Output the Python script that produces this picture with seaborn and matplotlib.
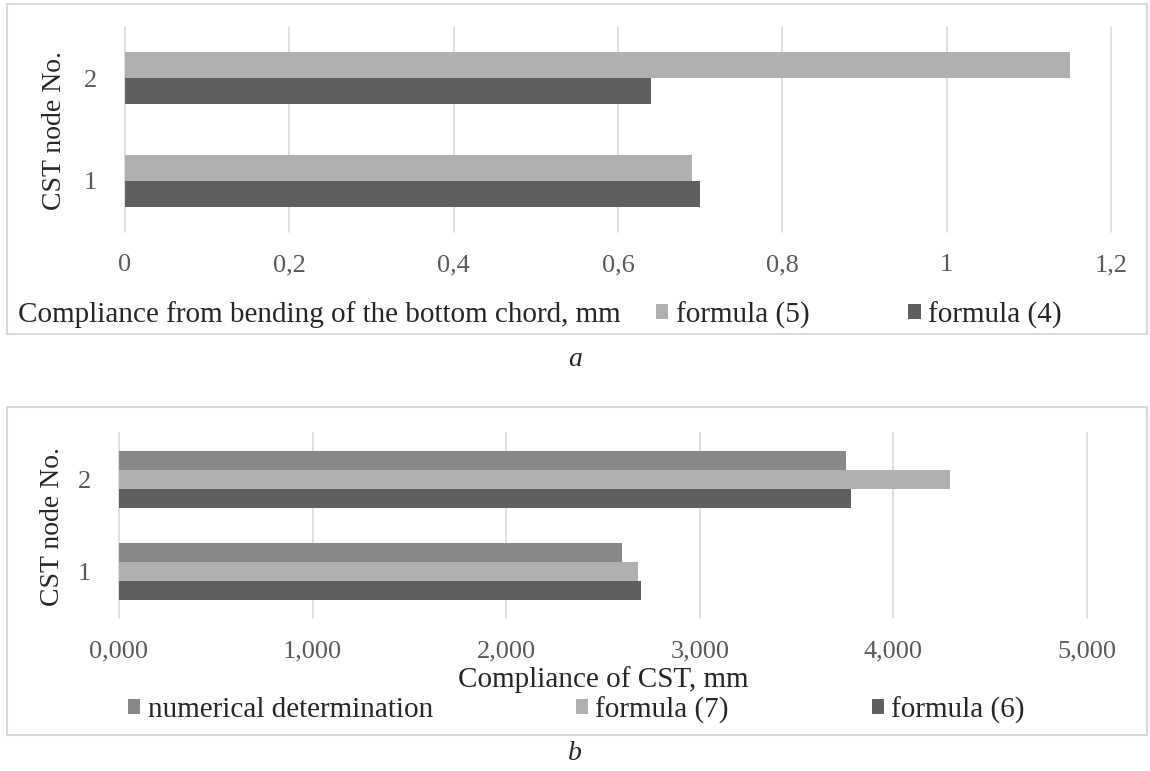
import pandas as pd
import matplotlib
matplotlib.use('Agg')
import matplotlib.pyplot as plt
import seaborn as sns
from matplotlib.patches import Rectangle

# data
nodes = ['1', '2']
formula_4 = [0.70, 0.64]
formula_5 = [0.69, 1.15]
numerical = [2.600, 3.757]
formula_7 = [2.680, 4.291]
formula_6 = [2.695, 3.779]

top_ticks = [0, 0.2, 0.4, 0.6, 0.8, 1.0, 1.2]
bot_ticks = [0, 1, 2, 3, 4, 5]

df_a = pd.DataFrame({
    'node': nodes * 2,
    'value': formula_5 + formula_4,
    'series': ['formula (5)'] * 2 + ['formula (4)'] * 2,
})
df_b = pd.DataFrame({
    'node': nodes * 3,
    'value': numerical + formula_7 + formula_6,
    'series': ['numerical determination'] * 2 + ['formula (7)'] * 2 + ['formula (6)'] * 2,
})

pal = {'formula (5)': '#b0b0b0', 'formula (4)': '#5f5f5f',
       'numerical determination': '#888888', 'formula (7)': '#b0b0b0',
       'formula (6)': '#5f5f5f'}

sns.set_style('white')
plt.rcParams['font.family'] = ['Liberation Serif', 'DejaVu Serif']

fig = plt.figure(figsize=(11.5, 7.71), dpi=100)
W, H = 1150, 771

def fx(px):
    return px / W

def fy(py):
    return 1 - py / H

# panel frames
for y0, y1 in [(4, 334), (407, 735)]:
    fig.patches.append(Rectangle((fx(7), fy(y1)), fx(1147) - fx(7), (y1 - y0) / H,
                                 transform=fig.transFigure, fill=False,
                                 edgecolor='#d9d9d9', lw=1.5, zorder=0))

ax1 = fig.add_axes([fx(125), fy(232), fx(1111) - fx(125), (232 - 27) / H])
ax2 = fig.add_axes([fx(119), fy(618), fx(1087) - fx(119), (618 - 433) / H])

sns.barplot(data=df_a, x='value', y='node', hue='series', orient='h',
            order=['2', '1'], hue_order=['formula (5)', 'formula (4)'],
            palette=pal, width=0.51, gap=0, saturation=1, linewidth=0,
            edgecolor='none', ax=ax1)
sns.barplot(data=df_b, x='value', y='node', hue='series', orient='h',
            order=['2', '1'],
            hue_order=['numerical determination', 'formula (7)', 'formula (6)'],
            palette=pal, width=0.62, gap=0, saturation=1, linewidth=0,
            edgecolor='none', ax=ax2)

ax1.set_xlim(0, 1.2)
ax1.set_xticks(top_ticks)
ax1.set_xticklabels([('%g' % t).replace('.', ',') for t in top_ticks])
ax2.set_xlim(0, 5)
ax2.set_xticks(bot_ticks)
ax2.set_xticklabels([('%.3f' % t).replace('.', ',') for t in bot_ticks])

for ax, anchor, cs in [(ax1, (fx(656), fy(315)), 3.4), (ax2, (fx(128), fy(710)), 4.9)]:
    h, l = ax.get_legend_handles_labels()
    ax.get_legend().remove()
    fig.legend(h, l, loc='center left', bbox_to_anchor=anchor, ncol=len(l),
               frameon=False, fontsize=21, borderpad=0, borderaxespad=0,
               handlelength=0.42, handleheight=0.42, handletextpad=0.25,
               columnspacing=cs)
    ax.set_xlabel('')
    ax.set_ylabel('')
    for s in ax.spines.values():
        s.set_visible(False)
    ax.grid(axis='x', color='#d9d9d9', lw=1.2)
    ax.set_axisbelow(True)
    for gl in ax.get_xgridlines():
        gl.set_clip_on(False)
    ax.tick_params(axis='both', length=0, labelsize=19, labelcolor='#595959')
    ax.tick_params(axis='x', pad=16)
    ax.tick_params(axis='y', pad=20)

fig.text(fx(18), fy(315), 'Compliance from bending of the bottom chord, mm',
         fontsize=21, ha='left', va='center')
fig.text(fx(603), fy(680), 'Compliance of CST, mm', fontsize=21, ha='center', va='center')
fig.text(fx(55), fy(131), 'CST node No.', fontsize=20, rotation=90, ha='center', va='center')
fig.text(fx(53), fy(527), 'CST node No.', fontsize=20, rotation=90, ha='center', va='center')
fig.text(fx(575), fy(360), 'a', fontsize=20, style='italic', ha='center', va='center')
fig.text(fx(575), fy(753), 'b', fontsize=20, style='italic', ha='center', va='center')

plt.savefig('out.png', dpi=100)
